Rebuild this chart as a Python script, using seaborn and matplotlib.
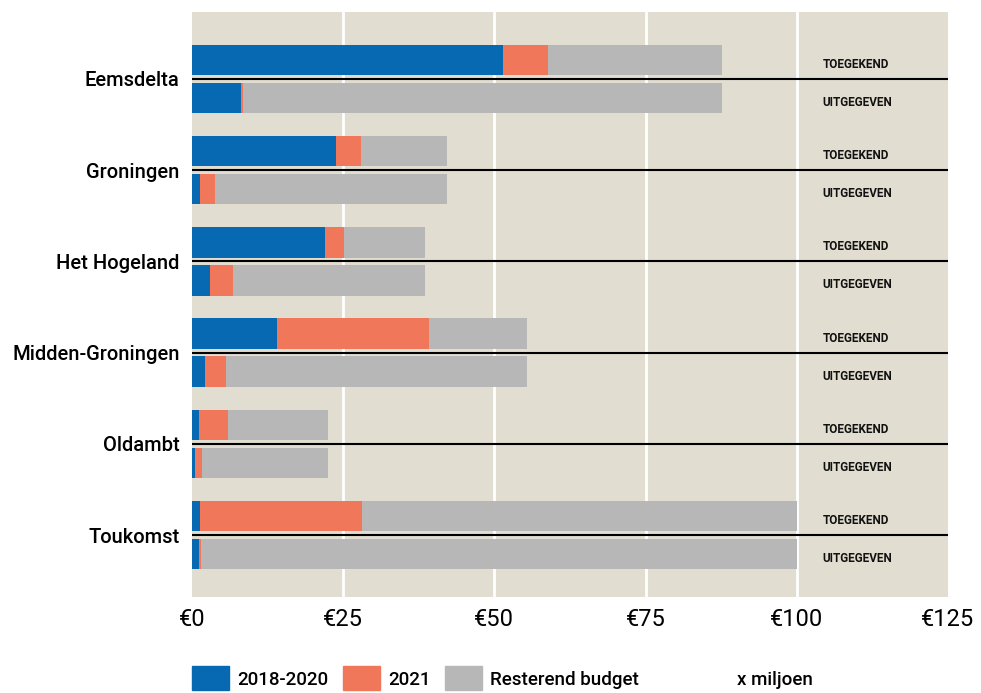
import matplotlib
matplotlib.use("Agg")
import matplotlib.pyplot as plt
from matplotlib.patches import Rectangle
import pandas as pd
import seaborn as sns

# ------------------- DATA (x miljoen euro) ------------------- #

gemeenten = ["Eemsdelta", "Groningen", "Het Hogeland", "Midden-Groningen", "Oldambt", "Toukomst"]
soorten = ["TOEGEKEND", "UITGEGEVEN"]

toegekend_2018_2020 = [51.4, 23.8, 22.0, 14.1, 1.2, 1.3]
toegekend_2021 = [7.5, 4.2, 3.1, 25.1, 4.8, 26.8]
uitgegeven_2018_2020 = [8.1, 1.3, 3.0, 2.2, 0.5, 1.2]
uitgegeven_2021 = [0.4, 2.5, 3.8, 3.4, 1.2, 0.3]
budget_totaal = [87.6, 42.2, 38.6, 55.4, 22.5, 100.0]

legend_labels = ["2018-2020", "2021", "Resterend budget"]
xticks = [0, 25, 50, 75, 100, 125]

BLUE = "#0669b2"
ORANGE = "#f07759"
GREY = "#b7b7b7"
BG = "#e1ddd0"

# ------------------- TABEL ------------------- #

rows = []
for i, g in enumerate(gemeenten):
    for j, soort in enumerate(soorten):
        a = [toegekend_2018_2020, uitgegeven_2018_2020][j][i]
        b = [toegekend_2021, uitgegeven_2021][j][i]
        rows.append({
            "gemeente": g,
            "soort": soort,
            "pos": 2.4 * i + j,
            "periode_1": a,
            "t_m_2021": a + b,
            "totaal": budget_totaal[i],
        })
df = pd.DataFrame(rows)

# ------------------- FIGUUR ------------------- #

sns.set_theme(style="white")
plt.rcParams["font.family"] = ["Roboto", "DejaVu Sans"]
plt.rcParams["text.color"] = "black"

fig = plt.figure(figsize=(9.81, 6.93), dpi=100)
ax = fig.add_axes([192 / 981, 1 - 597 / 693, 756 / 981, 585 / 693])
ax.set_facecolor(BG)

# gestapeld: eerst totaal (grijs), dan t/m 2021 (oranje), dan 2018-2020 (blauw)
for col, kleur in [("totaal", GREY), ("t_m_2021", ORANGE), ("periode_1", BLUE)]:
    sns.barplot(data=df, x=col, y="pos", orient="y", native_scale=True,
                color=kleur, width=0.8, errorbar=None, saturation=1,
                linewidth=0, ax=ax, zorder=3)

for x in xticks[1:-1]:
    ax.axvline(x, color="white", lw=2, zorder=1)

for p in df.loc[df["soort"] == "TOEGEKEND", "pos"]:
    ax.axhline(p + 0.5, color="black", lw=1.5, zorder=4)

for _, r in df.iterrows():
    ax.text(104.3, r["pos"] + 0.12, r["soort"], fontsize=8.5, fontweight="bold",
            ha="left", va="center", color="#111111", zorder=5)

ax.set_xlim(0, 125)
ax.set_ylim(14.13, -1.26)
ax.set_xticks(xticks)
ax.set_xticklabels([f"€{v}" for v in xticks], fontsize=17)
ax.set_yticks([2.4 * i + 0.5 for i in range(len(gemeenten))])
ax.set_yticklabels(gemeenten, fontsize=14.5, fontweight="medium")
ax.tick_params(axis="both", length=0, colors="black")
ax.tick_params(axis="x", pad=8)
ax.tick_params(axis="y", pad=9)
ax.set_xlabel("")
ax.set_ylabel("")
for s in ax.spines.values():
    s.set_visible(False)

# legenda
legend_x = [192, 343, 445]
for lx, lab, kleur in zip(legend_x, legend_labels, [BLUE, ORANGE, GREY]):
    fig.patches.append(Rectangle((lx / 981, 1 - 690 / 693), 37 / 981, 24 / 693,
                                 transform=fig.transFigure, color=kleur))
    fig.text((lx + 45) / 981, 1 - 680 / 693, lab, fontsize=13.5, fontweight="medium",
             ha="left", va="center")
fig.text(737 / 981, 1 - 680 / 693, "x miljoen", fontsize=13.5, fontweight="medium",
         ha="left", va="center")

fig.savefig("out.png", dpi=100, facecolor="white")
plt.close(fig)
